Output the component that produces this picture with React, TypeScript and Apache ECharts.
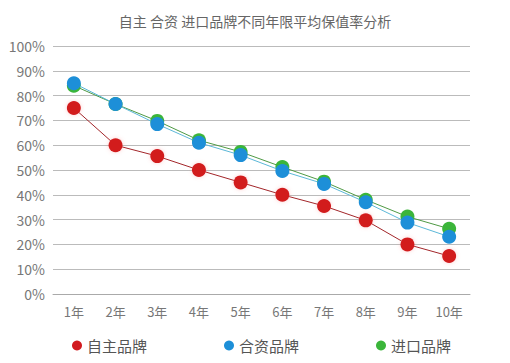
import React, { useEffect, useRef } from "react";
import * as echarts from "echarts";

const titleText = "自主 合资 进口品牌不同年限平均保值率分析";
const categories = ["1年", "2年", "3年", "4年", "5年", "6年", "7年", "8年", "9年", "10年"];
const seriesNames = ["自主品牌", "合资品牌", "进口品牌"];
const domesticValues = [75, 60, 55.6, 50, 45, 40, 35.5, 29.7, 20, 15.3];
const jointValues = [85, 76.6, 68.5, 61, 56, 49.6, 44.4, 37, 28.8, 23.1];
const importValues = [84, 76.6, 69.8, 62, 57.3, 51.2, 45.3, 38, 31.2, 26.3];

const markerColors = ["#d21a1f", "#1d8fd8", "#3bb53a"];
const lineColors = ["#a3262a", "#5cb8d8", "#4f9a45"];

export default function App() {
  const ref = useRef<HTMLDivElement>(null);
  useEffect(() => {
    if (!ref.current) return;
    const chart = echarts.init(ref.current, undefined, { renderer: "svg" });
    const font = "'Noto Sans CJK SC', 'Noto Sans', sans-serif";
    const values = [domesticValues, jointValues, importValues];
    chart.setOption({
      animation: false,
      backgroundColor: "#ffffff",
      title: {
        text: titleText,
        left: "center",
        top: 9,
        textStyle: { color: "#666", fontSize: 14, fontWeight: "normal", fontFamily: font },
      },
      legend: {
        data: seriesNames.map((n, i) => ({ name: n, itemStyle: { color: markerColors[i] } })),
        left: 67,
        top: 333,
        icon: "circle",
        itemWidth: 10,
        itemHeight: 10,
        itemGap: 77,
        textStyle: { color: "#555", fontSize: 15, fontFamily: font },
      },
      grid: { left: 53, right: 40, top: 46, bottom: 69 },
      xAxis: {
        type: "category",
        data: categories,
        boundaryGap: true,
        axisLine: { lineStyle: { color: "#aaa" } },
        axisTick: { show: false },
        axisLabel: { color: "#777", fontSize: 13, margin: 11, fontFamily: font },
      },
      yAxis: {
        type: "value",
        min: 0,
        max: 100,
        interval: 10,
        axisLine: { show: false },
        axisTick: { show: false },
        axisLabel: { color: "#777", fontSize: 14, margin: 8, formatter: "{value}%", fontFamily: font },
        splitLine: { lineStyle: { color: "#bbb", width: 1 } },
      },
      series: seriesNames.map((name, i) => ({
        name,
        type: "line",
        data: values[i],
        symbol: "circle",
        symbolSize: 14,
        z: i === 1 ? 4 : i === 2 ? 3 : 2,
        lineStyle: { color: lineColors[i], width: 1 },
        itemStyle: {
          color: markerColors[i],
          shadowColor: "rgba(255,120,120,0.35)",
          shadowBlur: i === 0 ? 4 : 0,
        },
      })),
    });
    return () => chart.dispose();
  }, []);
  return <div ref={ref} style={{ width: 510, height: 363, margin: -8 }} />;
}
